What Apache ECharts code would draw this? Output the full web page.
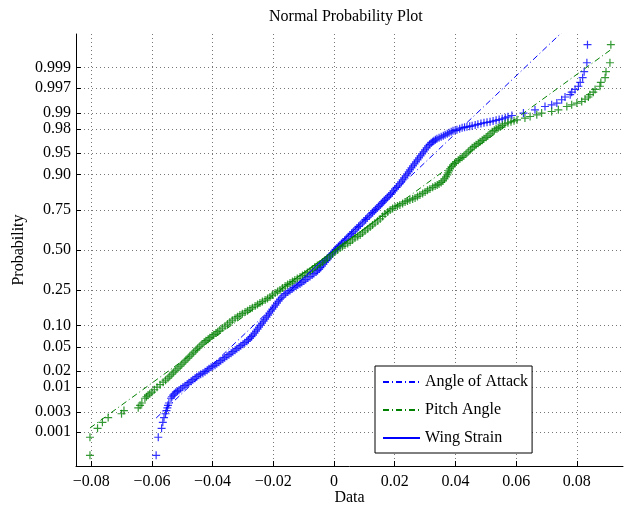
<!DOCTYPE html>
<html>
<head>
<meta charset="utf-8">
<script src="https://cdn.jsdelivr.net/npm/echarts@6/dist/echarts.min.js"></script>
<style>
  html, body { margin: 0; padding: 0; background: #fff; }
  #chart { width: 640px; height: 510px; }
</style>
</head>
<body>
<div id="chart"></div>
<script>
// Probability axis ticks (drawn on a normal-quantile scale)
const probTicks = [0.001, 0.003, 0.01, 0.02, 0.05, 0.10, 0.25, 0.50, 0.75, 0.90, 0.95, 0.98, 0.99, 0.997, 0.999];
const probLabels = ['0.001', '0.003', '0.01', '0.02', '0.05', '0.10', '0.25', '0.50', '0.75', '0.90', '0.95', '0.98', '0.99', '0.997', '0.999'];
const dataTicks = [-0.08, -0.06, -0.04, -0.02, 0, 0.02, 0.04, 0.06, 0.08];
const dataRange = [-0.0850, 0.0952];
const scoreRange = [-3.662, 3.662];

// Blue sample: sorted values and their normal scores
const attackValue = [
  -0.0586, -0.0579, -0.0568, -0.0564, -0.0560, -0.0555, -0.0552, -0.0549, -0.0547, -0.0544,
  -0.0537, -0.0534, -0.0530, -0.0526, -0.0521, -0.0516, -0.0511, -0.0505, -0.0498, -0.0491,
  -0.0484, -0.0478, -0.0471, -0.0465, -0.0458, -0.0452, -0.0445, -0.0439, -0.0432, -0.0425,
  -0.0418, -0.0412, -0.0405, -0.0399, -0.0392, -0.0386, -0.0379, -0.0373, -0.0366, -0.0360,
  -0.0353, -0.0346, -0.0339, -0.0333, -0.0326, -0.0320, -0.0313, -0.0307, -0.0300, -0.0294,
  -0.0287, -0.0282, -0.0277, -0.0272, -0.0267, -0.0262, -0.0257, -0.0252, -0.0247, -0.0242,
  -0.0237, -0.0232, -0.0227, -0.0222, -0.0217, -0.0213, -0.0208, -0.0203, -0.0198, -0.0193,
  -0.0188, -0.0183, -0.0178, -0.0172, -0.0165, -0.0159, -0.0152, -0.0145, -0.0138, -0.0132,
  -0.0125, -0.0119, -0.0112, -0.0106, -0.0099, -0.0093, -0.0086, -0.0079, -0.0072, -0.0066,
  -0.0059, -0.0054, -0.0049, -0.0045, -0.0040, -0.0035, -0.0030, -0.0025, -0.0020, -0.0015,
  -0.0010, -0.0005, 0.0000, 0.0005, 0.0010, 0.0015, 0.0020, 0.0025, 0.0030, 0.0035,
  0.0040, 0.0047, 0.0053, 0.0058, 0.0063, 0.0070, 0.0076, 0.0081, 0.0086, 0.0093,
  0.0099, 0.0104, 0.0109, 0.0116, 0.0122, 0.0127, 0.0132, 0.0137, 0.0142, 0.0147,
  0.0152, 0.0157, 0.0161, 0.0166, 0.0171, 0.0176, 0.0181, 0.0186, 0.0191, 0.0196,
  0.0201, 0.0206, 0.0211, 0.0216, 0.0221, 0.0226, 0.0231, 0.0236, 0.0241, 0.0246,
  0.0250, 0.0255, 0.0260, 0.0265, 0.0270, 0.0275, 0.0280, 0.0285, 0.0290, 0.0295,
  0.0300, 0.0305, 0.0310, 0.0315, 0.0320, 0.0325, 0.0329, 0.0334, 0.0339, 0.0346,
  0.0353, 0.0360, 0.0366, 0.0373, 0.0379, 0.0386, 0.0392, 0.0399, 0.0405, 0.0414,
  0.0422, 0.0430, 0.0438, 0.0447, 0.0455, 0.0465, 0.0474, 0.0484, 0.0494, 0.0504,
  0.0514, 0.0524, 0.0534, 0.0544, 0.0554, 0.0564, 0.0573,
  0.0586, 0.0624, 0.0662, 0.0695, 0.0717, 0.0734, 0.0750, 0.0761, 0.0778, 0.0783,
  0.0794, 0.0805, 0.0811, 0.0819, 0.0824, 0.0833, 0.0835
];
const attackScore = [
  -3.481, -3.175, -3.023, -2.921, -2.841, -2.776, -2.722, -2.675, -2.633, -2.594,
  -2.513, -2.488, -2.462, -2.437, -2.411, -2.394, -2.377, -2.352, -2.326, -2.301,
  -2.275, -2.250, -2.224, -2.199, -2.173, -2.148, -2.122, -2.105, -2.088, -2.063,
  -2.037, -2.012, -1.986, -1.969, -1.952, -1.927, -1.902, -1.877, -1.851, -1.826,
  -1.800, -1.775, -1.749, -1.724, -1.698, -1.673, -1.647, -1.622, -1.596, -1.571,
  -1.545, -1.520, -1.494, -1.469, -1.443, -1.409, -1.375, -1.341, -1.307, -1.273,
  -1.239, -1.205, -1.171, -1.138, -1.104, -1.070, -1.036, -1.002, -0.968, -0.934,
  -0.900, -0.866, -0.832, -0.798, -0.764, -0.739, -0.713, -0.688, -0.662, -0.637,
  -0.611, -0.594, -0.577, -0.552, -0.526, -0.501, -0.475, -0.450, -0.424, -0.399,
  -0.374, -0.349, -0.323, -0.298, -0.272, -0.238, -0.204, -0.179, -0.153, -0.119,
  -0.085, -0.051, -0.017, 0.009, 0.034, 0.060, 0.085, 0.111, 0.136, 0.162,
  0.187, 0.221, 0.255, 0.281, 0.306, 0.340, 0.374, 0.399, 0.424, 0.458,
  0.492, 0.518, 0.543, 0.577, 0.611, 0.637, 0.662, 0.688, 0.713, 0.739,
  0.764, 0.790, 0.815, 0.841, 0.866, 0.892, 0.917, 0.943, 0.968, 1.002,
  1.036, 1.062, 1.087, 1.121, 1.155, 1.189, 1.222, 1.256, 1.290, 1.324,
  1.358, 1.392, 1.426, 1.460, 1.494, 1.528, 1.562, 1.596, 1.630, 1.664,
  1.698, 1.732, 1.766, 1.792, 1.817, 1.834, 1.851, 1.868, 1.885, 1.902,
  1.919, 1.936, 1.952, 1.969, 1.986, 2.003, 2.020, 2.029, 2.037, 2.054,
  2.071, 2.080, 2.088, 2.097, 2.105, 2.118, 2.131, 2.144, 2.156, 2.165,
  2.173, 2.186, 2.199, 2.212, 2.224, 2.241, 2.258,
  2.280, 2.321, 2.377, 2.433, 2.462, 2.491, 2.547, 2.594, 2.633, 2.675,
  2.722, 2.776, 2.841, 2.921, 3.023, 3.175, 3.481
];

// Green sample: sorted values and their normal scores
const pitchValue = [
  -0.0804, -0.0804, -0.0779, -0.0763, -0.0744, -0.0700, -0.0692, -0.0645, -0.0639, -0.0633,
  -0.0623, -0.0618, -0.0613, -0.0607, -0.0600, -0.0592, -0.0583, -0.0573, -0.0563, -0.0555,
  -0.0547, -0.0541, -0.0534, -0.0528, -0.0521, -0.0514, -0.0507, -0.0501, -0.0494, -0.0488,
  -0.0481, -0.0475, -0.0468, -0.0462, -0.0455, -0.0449, -0.0442, -0.0435, -0.0428, -0.0422,
  -0.0415, -0.0409, -0.0402, -0.0396, -0.0389, -0.0383, -0.0376, -0.0368, -0.0359, -0.0351,
  -0.0343, -0.0335, -0.0326, -0.0318, -0.0310, -0.0302, -0.0293, -0.0285, -0.0277, -0.0269,
  -0.0260, -0.0252, -0.0244, -0.0236, -0.0227, -0.0219, -0.0211, -0.0203, -0.0194, -0.0186,
  -0.0178, -0.0170, -0.0161, -0.0153, -0.0145, -0.0137, -0.0129, -0.0121, -0.0112, -0.0104,
  -0.0096, -0.0088, -0.0079, -0.0071, -0.0063, -0.0055, -0.0046, -0.0038, -0.0030, -0.0022,
  -0.0013, -0.0005, 0.0003, 0.0012, 0.0020, 0.0028, 0.0036, 0.0045, 0.0053, 0.0061,
  0.0069, 0.0078, 0.0086, 0.0094, 0.0102, 0.0111, 0.0119, 0.0127, 0.0135, 0.0144,
  0.0152, 0.0160, 0.0168, 0.0177, 0.0185, 0.0193, 0.0201, 0.0209, 0.0217, 0.0226,
  0.0234, 0.0242, 0.0250, 0.0259, 0.0267, 0.0275, 0.0283, 0.0292, 0.0300, 0.0308,
  0.0316, 0.0325, 0.0333, 0.0340, 0.0346, 0.0353, 0.0359, 0.0364, 0.0369, 0.0373,
  0.0376, 0.0379, 0.0382, 0.0387, 0.0392, 0.0397, 0.0402, 0.0409, 0.0415, 0.0422,
  0.0428, 0.0435, 0.0442, 0.0449, 0.0455, 0.0462, 0.0468, 0.0475, 0.0481, 0.0488,
  0.0494, 0.0501, 0.0507, 0.0514, 0.0521, 0.0528, 0.0534, 0.0541, 0.0547, 0.0555,
  0.0563, 0.0573, 0.0583, 0.0593, 0.0603,
  0.0629, 0.0646, 0.0668, 0.0684, 0.0717, 0.0739, 0.0767, 0.0783, 0.0800, 0.0816,
  0.0827, 0.0838, 0.0843, 0.0854, 0.0860, 0.0876, 0.0879, 0.0893, 0.0896, 0.0909,
  0.0912
];
const pitchScore = [
  -3.481, -3.175, -3.023, -2.921, -2.841, -2.776, -2.722, -2.675, -2.633, -2.594,
  -2.513, -2.488, -2.462, -2.437, -2.411, -2.369, -2.326, -2.284, -2.241, -2.207,
  -2.173, -2.139, -2.105, -2.071, -2.037, -2.003, -1.969, -1.936, -1.902, -1.868,
  -1.834, -1.800, -1.766, -1.732, -1.698, -1.664, -1.630, -1.596, -1.562, -1.537,
  -1.511, -1.486, -1.460, -1.435, -1.409, -1.384, -1.358, -1.324, -1.290, -1.256,
  -1.222, -1.189, -1.155, -1.130, -1.104, -1.079, -1.053, -1.028, -1.002, -0.977,
  -0.951, -0.926, -0.900, -0.875, -0.849, -0.824, -0.798, -0.764, -0.730, -0.705,
  -0.679, -0.645, -0.611, -0.586, -0.560, -0.535, -0.509, -0.484, -0.458, -0.433,
  -0.407, -0.382, -0.357, -0.323, -0.289, -0.264, -0.238, -0.204, -0.170, -0.136,
  -0.102, -0.068, -0.034, 0.000, 0.034, 0.060, 0.085, 0.111, 0.136, 0.170,
  0.204, 0.230, 0.255, 0.289, 0.323, 0.357, 0.391, 0.425, 0.458, 0.492,
  0.526, 0.569, 0.611, 0.645, 0.679, 0.705, 0.730, 0.747, 0.764, 0.790,
  0.815, 0.832, 0.849, 0.866, 0.883, 0.909, 0.934, 0.960, 0.985, 1.011,
  1.036, 1.062, 1.087, 1.104, 1.121, 1.146, 1.171, 1.205, 1.239, 1.273,
  1.307, 1.341, 1.375, 1.409, 1.443, 1.469, 1.494, 1.520, 1.545, 1.571,
  1.596, 1.630, 1.664, 1.698, 1.732, 1.758, 1.783, 1.809, 1.834, 1.860,
  1.885, 1.911, 1.936, 1.970, 2.003, 2.029, 2.054, 2.071, 2.088, 2.114,
  2.139, 2.156, 2.173, 2.190, 2.207,
  2.236, 2.263, 2.292, 2.321, 2.348, 2.377, 2.433, 2.462, 2.491, 2.518,
  2.559, 2.594, 2.633, 2.675, 2.722, 2.776, 2.841, 2.921, 3.023, 3.175,
  3.481
];

const BLUE = '#0000ff';
const GREEN = '#008000';
const FONT = '"Liberation Serif", "Times New Roman", serif';

// Inverse of the standard normal CDF (Acklam's rational approximation)
function normInv(p) {
  const a = [-3.969683028665376e+01, 2.209460984245205e+02, -2.759285104469687e+02, 1.383577518672690e+02, -3.066479806614716e+01, 2.506628277459239e+00];
  const b = [-5.447609879822406e+01, 1.615858368580409e+02, -1.556989798598866e+02, 6.680131188771972e+01, -1.328068155288572e+01];
  const c = [-7.784894002430293e-03, -3.223964580411365e-01, -2.400758277161838e+00, -2.549732539343734e+00, 4.374664141464968e+00, 2.938163982698783e+00];
  const d = [7.784695709041462e-03, 3.224671290700398e-01, 2.445134137142996e+00, 3.754408661907416e+00];
  const pl = 0.02425, ph = 1 - pl;
  let q, r;
  if (p < pl) {
    q = Math.sqrt(-2 * Math.log(p));
    return (((((c[0] * q + c[1]) * q + c[2]) * q + c[3]) * q + c[4]) * q + c[5]) /
           ((((d[0] * q + d[1]) * q + d[2]) * q + d[3]) * q + 1);
  }
  if (p <= ph) {
    q = p - 0.5; r = q * q;
    return (((((a[0] * r + a[1]) * r + a[2]) * r + a[3]) * r + a[4]) * r + a[5]) * q /
           (((((b[0] * r + b[1]) * r + b[2]) * r + b[3]) * r + b[4]) * r + 1);
  }
  q = Math.sqrt(-2 * Math.log(1 - p));
  return -(((((c[0] * q + c[1]) * q + c[2]) * q + c[3]) * q + c[4]) * q + c[5]) /
          ((((d[0] * q + d[1]) * q + d[2]) * q + d[3]) * q + 1);
}

const tickScores = probTicks.map(normInv);

// Value of a sorted sample at a given normal score (linear between neighbours)
function valueAtScore(values, scores, s) {
  for (let i = 1; i < scores.length; i++) {
    if (scores[i] >= s) {
      const t = (s - scores[i - 1]) / (scores[i] - scores[i - 1]);
      return values[i - 1] + t * (values[i] - values[i - 1]);
    }
  }
  return values[values.length - 1];
}

// Reference line through the first and third quartiles
function quartileLine(values, scores) {
  const zq = normInv(0.75);
  const q1 = valueAtScore(values, scores, -zq);
  const q3 = valueAtScore(values, scores, zq);
  const mu = (q1 + q3) / 2;
  const sigma = (q3 - q1) / (2 * zq);
  const lo = Math.min(...values), hi = Math.max(...values);
  return {
    full: [[lo, (lo - mu) / sigma], [hi, (hi - mu) / sigma]],
    inner: [[q1, -zq], [q3, zq]]
  };
}

const attackFit = quartileLine(attackValue, attackScore);
const pitchFit = quartileLine(pitchValue, pitchScore);

const crossPath = 'path://M0,3.4H8V4.6H0Z M3.4,0H4.6V8H3.4Z';
const dashDot = [6, 3, 1, 3];

function points(values, scores) {
  return values.map((v, i) => [v, scores[i]]);
}

const chart = echarts.init(document.getElementById('chart'), null, { renderer: 'canvas' });

chart.setOption({
  animation: false,
  backgroundColor: '#fff',
  textStyle: { fontFamily: FONT },
  grid: { left: 76, right: 17, top: 34, bottom: 44, containLabel: false, outerBoundsMode: 'none' },
  graphic: [{
    type: 'text',
    left: 346 - 77, top: 9,
    style: { text: 'Normal Probability Plot', font: '16px ' + FONT, fill: '#000', width: 154, align: 'center' }
  }],
  legend: {
    data: ['Angle of Attack', 'Pitch Angle', 'Wing Strain'],
    orient: 'vertical',
    left: 375, top: 366,
    padding: [8, 4, 7, 7],
    itemGap: 12,
    itemWidth: 37, itemHeight: 14,
    selectedMode: false,
    borderColor: '#000', borderWidth: 1, borderRadius: 0,
    backgroundColor: '#fff',
    itemStyle: { color: 'rgba(0,0,0,0)', borderColor: 'rgba(0,0,0,0)', borderWidth: 0 },
    textStyle: { fontFamily: FONT, fontSize: 16, color: '#000' }
  },
  xAxis: {
    type: 'value',
    min: dataRange[0], max: dataRange[1],
    name: 'Data', nameLocation: 'middle', nameGap: 24, nameMoveOverlap: false,
    nameTextStyle: { fontFamily: FONT, fontSize: 16, color: '#000' },
    axisLine: { onZero: false, lineStyle: { color: '#000', width: 1 } },
    axisTick: { inside: true, length: 5, customValues: dataTicks, lineStyle: { color: '#000' } },
    axisLabel: {
      customValues: dataTicks, margin: 8,
      fontFamily: FONT, fontSize: 16, color: '#000',
      formatter: v => (Math.abs(v) < 1e-9 ? '0' : (v < 0 ? '\u2212' : '') + Math.abs(v).toFixed(2))
    },
    splitLine: { show: true, lineStyle: { color: '#777', width: 1, type: [1, 3] } }
  },
  yAxis: {
    type: 'value',
    min: scoreRange[0], max: scoreRange[1],
    name: 'Probability', nameLocation: 'middle', nameGap: 49, nameRotate: 90, nameMoveOverlap: false,
    nameTextStyle: { fontFamily: FONT, fontSize: 16, color: '#000' },
    axisLine: { onZero: false, lineStyle: { color: '#000', width: 1 } },
    axisTick: { inside: true, length: 5, customValues: tickScores, lineStyle: { color: '#000' } },
    axisLabel: {
      customValues: tickScores, margin: 5,
      fontFamily: FONT, fontSize: 16, color: '#000',
      formatter: v => {
        let best = 0;
        tickScores.forEach((s, i) => { if (Math.abs(s - v) < Math.abs(tickScores[best] - v)) best = i; });
        return probLabels[best];
      }
    },
    splitLine: { show: true, lineStyle: { color: '#777', width: 1, type: [1, 3] } }
  },
  series: [
    {
      name: 'blue sample', type: 'scatter',
      data: points(attackValue, attackScore),
      symbol: crossPath, symbolSize: 8,
      itemStyle: { color: BLUE },
      silent: true, z: 2
    },
    {
      name: 'green sample', type: 'scatter',
      data: points(pitchValue, pitchScore),
      symbol: crossPath, symbolSize: 8,
      itemStyle: { color: GREEN },
      silent: true, z: 2
    },
    {
      name: 'Angle of Attack', type: 'line',
      data: attackFit.full, symbol: 'none', clip: true,
      lineStyle: { color: BLUE, width: 1, type: dashDot },
      itemStyle: { color: BLUE },
      silent: true, z: 3
    },
    {
      name: 'Pitch Angle', type: 'line',
      data: pitchFit.full, symbol: 'none', clip: true,
      lineStyle: { color: GREEN, width: 1, type: dashDot },
      itemStyle: { color: GREEN },
      silent: true, z: 3
    },
    {
      name: 'Wing Strain', type: 'line',
      data: attackFit.inner, symbol: 'none', clip: true,
      lineStyle: { color: BLUE, width: 1, type: 'solid' },
      itemStyle: { color: BLUE },
      silent: true, z: 3
    },
    {
      name: 'green quartile segment', type: 'line',
      data: pitchFit.inner, symbol: 'none', clip: true,
      lineStyle: { color: GREEN, width: 1, type: 'solid' },
      itemStyle: { color: GREEN },
      silent: true, z: 3
    }
  ]
});
</script>
</body>
</html>
